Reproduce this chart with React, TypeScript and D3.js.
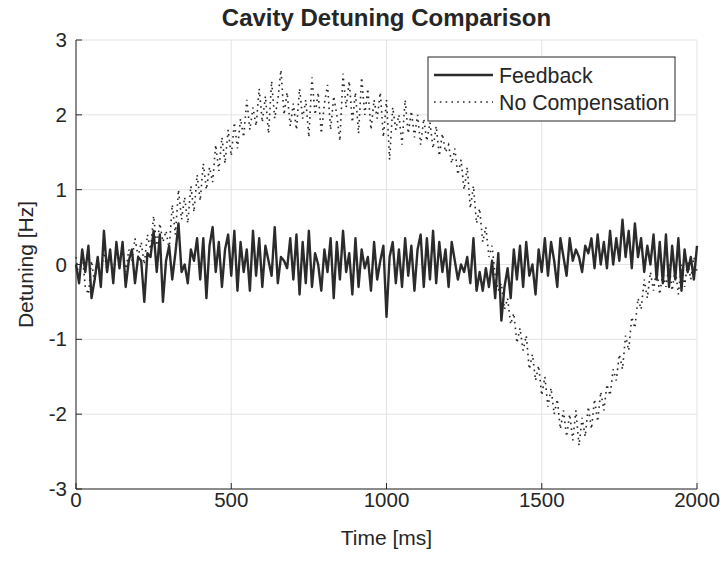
import React from "react";
import * as d3 from "d3";

// Time axis: samples every 10 ms from 0 to 2000 ms
const timeStep = 10;
const feedback: number[] = [
  0.0, -0.25, 0.2, -0.1, 0.25, -0.45, -0.2, 0.1, -0.3, 0.45,
  -0.1, 0.2, -0.25, 0.3, -0.05, 0.3, -0.3, 0.05, 0.2, -0.25,
  0.1, 0.05, -0.5, 0.15, 0.1, 0.45, -0.1, 0.4, -0.5, 0.05,
  0.25, -0.2, 0.15, 0.55, -0.1, 0.0, -0.25, 0.2, 0.05, 0.35,
  -0.2, 0.35, -0.45, 0.25, 0.5, -0.1, 0.3, -0.3, 0.2, 0.4,
  -0.15, 0.45, -0.35, 0.3, -0.1, 0.2, -0.35, 0.45, -0.15, 0.35,
  -0.3, 0.25, 0.05, -0.15, 0.5, -0.25, 0.1, 0.05, -0.05, 0.35,
  -0.2, 0.4, -0.4, 0.3, -0.25, 0.45, -0.3, 0.15, 0.0, -0.35,
  0.2, -0.1, 0.35, -0.45, 0.3, -0.2, 0.45, -0.1, 0.15, -0.4,
  0.35, -0.3, 0.2, -0.05, 0.1, -0.35, 0.3, -0.2, 0.05, 0.25,
  -0.7, 0.1, 0.3, -0.25, 0.2, -0.3, 0.35, -0.15, 0.25, -0.35,
  0.2, 0.4, -0.3, 0.35, -0.2, 0.45, -0.25, 0.3, -0.1, 0.2,
  -0.3, 0.3, 0.05, -0.2, 0.0, -0.1, 0.1, -0.25, 0.35, -0.35,
  -0.1, -0.35, -0.05, -0.3, 0.05, -0.45, 0.15, -0.75, -0.3, -0.05,
  -0.45, 0.2, -0.2, 0.25, -0.3, 0.3, -0.15, 0.0, -0.4, 0.2,
  -0.1, 0.35, -0.15, 0.3, 0.05, -0.3, 0.35, 0.1, -0.15, 0.35,
  0.05, 0.2, 0.1, -0.1, 0.25, 0.15, 0.35, -0.05, 0.4, 0.0,
  0.3, -0.05, 0.45, 0.0, 0.35, 0.05, 0.6, 0.1, 0.45, -0.05,
  0.55, 0.1, 0.35, -0.1, 0.25, 0.0, 0.4, -0.2, 0.3, -0.25,
  0.4, -0.3, 0.25, -0.2, 0.35, -0.35, 0.2, -0.1, 0.1, -0.2,
  0.25,
];
const noCompensation: number[] = [
  0.1, -0.2, 0.15, -0.3, -0.4, 0.05, -0.25, 0.1, -0.2, 0.2,
  -0.1, 0.15, -0.15, 0.2, 0.0, 0.25, -0.1, 0.2, 0.05, 0.35,
  0.1, 0.3, 0.0, 0.4, 0.2, 0.65, 0.25, 0.55, 0.3, 0.45,
  0.2, 0.8, 0.4, 1.0, 0.6, 0.9, 0.55, 1.05, 0.7, 1.2,
  0.85, 1.35, 1.0, 1.3, 1.1, 1.6, 1.25, 1.7, 1.35, 1.8,
  1.45, 1.9, 1.55, 1.95, 1.7, 2.2, 1.8, 2.1, 1.85, 2.35,
  1.9, 2.25, 1.75, 2.45, 1.95, 2.2, 2.6, 2.0, 2.3, 1.85,
  2.15, 1.8, 2.35, 1.95, 2.2, 1.7, 2.5, 2.0, 2.3, 1.75,
  2.15, 2.4, 1.8, 2.25, 2.0, 1.65, 2.55, 2.1, 2.45, 1.9,
  2.3, 1.75, 2.5, 2.0, 2.35, 1.8, 2.2, 1.95, 2.3, 1.7,
  2.2, 1.4, 2.1, 1.8, 2.0, 1.6, 2.2, 1.75, 2.05, 1.7,
  2.0, 1.6, 1.95, 1.65, 1.9, 1.55, 1.85, 1.45, 1.75, 1.5,
  1.6, 1.35, 1.55, 1.2, 1.4, 1.0, 1.3, 0.75, 1.05, 0.55,
  0.75, 0.3, 0.5, 0.1, 0.25, -0.15, -0.35, -0.25, -0.6, -0.45,
  -0.8, -0.65, -1.05, -0.85, -1.15, -0.95, -1.4, -1.2, -1.55, -1.35,
  -1.75, -1.5, -1.9, -1.65, -2.0, -1.8, -2.2, -1.95, -2.3, -2.0,
  -2.35, -1.95, -2.42, -2.05, -2.3, -1.9, -2.2, -1.8, -2.1, -1.7,
  -1.95, -1.6, -1.75, -1.4, -1.55, -1.2, -1.4, -0.95, -1.15, -0.7,
  -0.85, -0.45, -0.6, -0.2, -0.45, -0.1, -0.35, -0.05, -0.4, -0.1,
  -0.3, 0.0, -0.35, -0.05, -0.4, 0.0, -0.3, 0.05, -0.2, 0.1,
  -0.1,
];
const xTicks = [0, 500, 1000, 1500, 2000];
const yTicks = [-3, -2, -1, 0, 1, 2, 3];
const seriesNames = ["Feedback", "No Compensation"];
const titleText = "Cavity Detuning Comparison";
const xLabel = "Time [ms]";
const yLabel = "Detuning [Hz]";

const W = 725;
const H = 567;
const M = { left: 76, right: 697, top: 40, bottom: 489 };
const ink = "#262626";
const gridColor = "#e3e3e3";
const font = "'Liberation Sans', Arial, Helvetica, sans-serif";

export default function App() {
  const x = d3.scaleLinear().domain([0, 2000]).range([M.left, M.right]);
  const y = d3.scaleLinear().domain([-3, 3]).range([M.bottom, M.top]);
  const line = d3
    .line<number>()
    .x((_, i) => x(i * timeStep))
    .y((d) => y(d));

  return (
    <svg
      width={W}
      height={H}
      style={{ position: "absolute", left: 0, top: 0, background: "#fff" }}
      fontFamily={font}
    >
      <rect x={0} y={0} width={W} height={H} fill="#fff" />
      {/* grid */}
      {xTicks.map((t) => (
        <line key={"gx" + t} x1={x(t)} x2={x(t)} y1={M.top} y2={M.bottom} stroke={gridColor} strokeWidth={1} />
      ))}
      {yTicks.map((t) => (
        <line key={"gy" + t} x1={M.left} x2={M.right} y1={y(t)} y2={y(t)} stroke={gridColor} strokeWidth={1} />
      ))}
      {/* data */}
      <path d={line(noCompensation) || ""} fill="none" stroke={ink} strokeWidth={1.6} strokeDasharray="1.6 4.2" />
      <path d={line(feedback) || ""} fill="none" stroke="#2b2b2b" strokeWidth={2.4} strokeLinejoin="round" />
      {/* axes */}
      <line x1={M.left} x2={M.left} y1={M.top} y2={M.bottom} stroke={ink} strokeWidth={1} />
      <line x1={M.left} x2={M.right} y1={M.bottom} y2={M.bottom} stroke={ink} strokeWidth={1} />
      {xTicks.map((t) => (
        <g key={"xt" + t}>
          <line x1={x(t)} x2={x(t)} y1={M.bottom} y2={M.bottom - 6} stroke={ink} />
          <text x={x(t)} y={M.bottom + 18} textAnchor="middle" fontSize={20.5} fill={ink}>
            {t}
          </text>
        </g>
      ))}
      {yTicks.map((t) => (
        <g key={"yt" + t}>
          <line x1={M.left} x2={M.left + 6} y1={y(t)} y2={y(t)} stroke={ink} />
          <text x={M.left - 9} y={y(t) + 7} textAnchor="end" fontSize={20.5} fill={ink}>
            {t}
          </text>
        </g>
      ))}
      {/* labels */}
      <text x={(M.left + M.right) / 2} y={545} textAnchor="middle" fontSize={21} fill={ink}>
        {xLabel}
      </text>
      <text
        transform={`translate(33, ${(M.top + M.bottom) / 2}) rotate(-90)`}
        textAnchor="middle"
        fontSize={21}
        fill={ink}
      >
        {yLabel}
      </text>
      <text x={(M.left + M.right) / 2} y={26} textAnchor="middle" fontSize={24} fontWeight="bold" fill={ink}>
        {titleText}
      </text>
      {/* legend */}
      <g>
        <rect x={428} y={57} width={247} height={64} fill="#fff" stroke={ink} strokeWidth={1} />
        <line x1={434} x2={493} y1={75} y2={75} stroke="#2b2b2b" strokeWidth={2.4} />
        <line x1={434} x2={493} y1={102} y2={102} stroke={ink} strokeWidth={1.6} strokeDasharray="1.6 4.2" />
        <text x={499} y={83} fontSize={21.3} fill={ink}>
          {seriesNames[0]}
        </text>
        <text x={499} y={110} fontSize={21.3} fill={ink}>
          {seriesNames[1]}
        </text>
      </g>
    </svg>
  );
}
